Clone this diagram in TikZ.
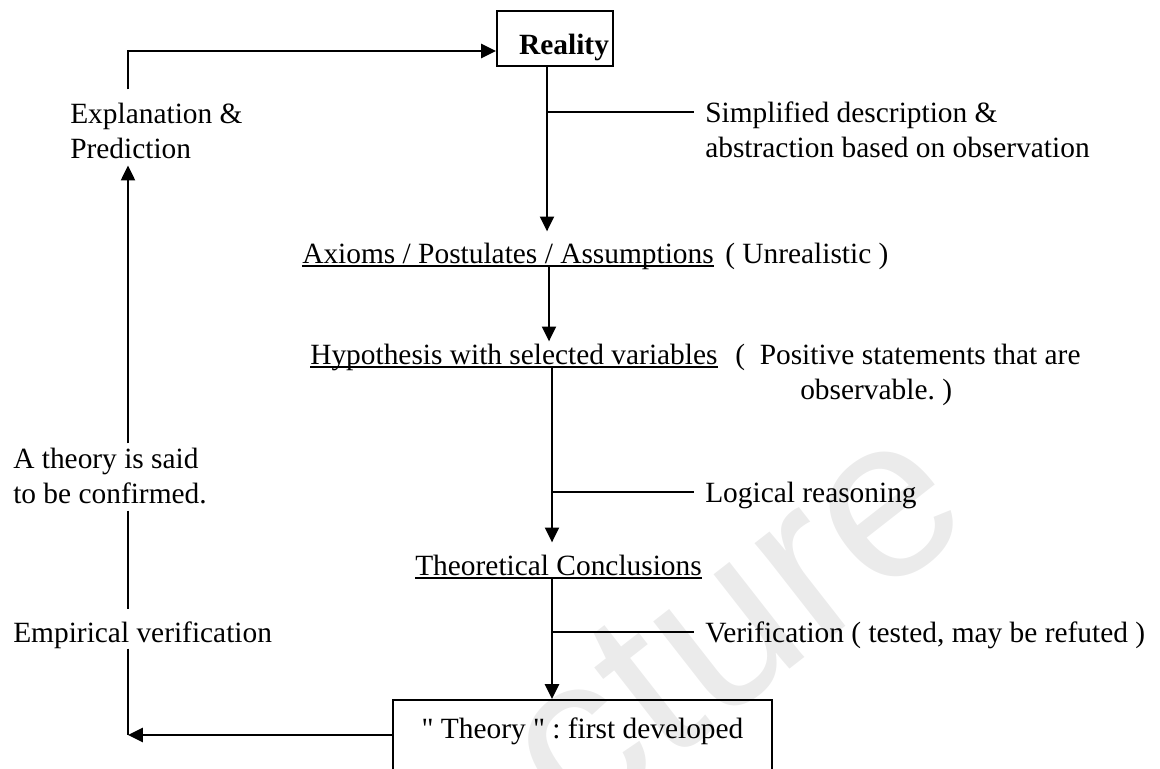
\documentclass[tikz,border=0pt]{standalone}
\usepackage{fontspec}
\setmainfont{Liberation Serif}
\newfontfamily\markfont{Liberation Sans}
\usetikzlibrary{arrows.meta,calc}

\begin{document}
\begin{tikzpicture}[x=0.025cm, y=-0.025cm,
  txt/.style={anchor=base west, inner sep=0pt, font=\fontsize{20.9}{25}\selectfont\frenchspacing},
  link/.style={line width=1.3pt},
  arr/.style={link, -{Triangle[length=10.5pt,width=10pt]}},
  uline/.style={line width=1.2pt}]

\useasboundingbox (0,0) rectangle (1160,769);
\clip (0,0) rectangle (1160,769);

% watermark behind everything
\node[rotate=38, text=gray!16, inner sep=0pt,
  font=\markfont\fontsize{163}{163}\selectfont] (mark) at (732,622) {cture};

% columns of the connectors
\coordinate (lx) at (128,0);
\coordinate (ax1) at (547,0);
\coordinate (ax2) at (549,0);
\coordinate (ax3) at (552,0);
\coordinate (looptop) at (0,51);
\coordinate (corner) at (128,735);

% Reality box
\node[draw, link, anchor=south west, inner xsep=0.1cm, inner ysep=0pt,
  text width=2.7cm, align=right, text height=1.075cm, text depth=0.3cm,
  font=\fontsize{20.9}{25}\selectfont\bfseries] (reality) at (496,67) {Reality};

% Theory box (runs off the bottom)
\node[draw, link, anchor=north west, inner sep=0pt,
  minimum width=9.475cm, text height=0.975cm, text depth=1.55cm,
  font=\fontsize{20.9}{25}\selectfont\frenchspacing] (theory) at (392,699)
  {\textquotedbl{} Theory \textquotedbl{} : first developed};

% left column
\node[txt] (expl) at (70,123) {Explanation \&};
\node[txt] (pred) at (70,158) {Prediction};
\node[txt] (said) at (13,468) {A theory is said};
\node[txt] (confirm) at (13,503) {to be confirmed.};
\node[txt] (empver) at (13,642) {Empirical verification};

% middle column
\node[txt] (axioms) at (302,263) {Axioms / Postulates / Assumptions};
\node[txt] (hyp) at (310,364) {Hypothesis with selected variables};
\node[txt] (concl) at (415,575) {Theoretical Conclusions};

% right column
\node[txt] (simp) at (705,122) {Simplified description \&};
\node[txt] (abst) at (705,157) {abstraction based on observation};
\node[txt] (unreal) at (725,263) {( Unrealistic )};
\node[txt] (posit) at (735,364) {(\ \ Positive statements that are};
\node[txt] (observ) at (800,399) {observable. )};
\node[txt] (logic) at (705,502) {Logical reasoning};
\node[txt] (verif) at (705,642) {Verification ( tested, may be refuted )};

% underlines
\foreach \n in {axioms,hyp,concl}
  \draw[uline] ($(\n.base west)+(0,3)$) -- ($(\n.base east)+(0,3)$);

% main chain
\draw[arr] (reality.south -| ax1) -- ($(axioms.north -| ax1)+(0,-11)$);
\draw[link] ($(simp.base west -| ax1)+(0,-10)$) -- ($(simp.base west)+(-11,-10)$);
\draw[arr] ($(axioms.base -| ax2)+(0,3)$) -- ($(hyp.north -| ax2)+(0,-2)$);
\draw[arr] ($(hyp.base -| ax3)+(0,3)$) -- ($(concl.north -| ax3)+(0,-12)$);
\draw[link] ($(logic.base west -| ax3)+(0,-10)$) -- ($(logic.base west)+(-11,-10)$);
\draw[arr] ($(concl.base -| ax3)+(0,3)$) -- (theory.north -| ax3);
\draw[link] ($(verif.base west -| ax3)+(0,-10)$) -- ($(verif.base west)+(-11,-10)$);

% feedback loop on the left
\draw[arr] (theory.west |- corner) -- (corner);
\draw[link] (empver.south -| lx) -- (corner);
\draw[link] ($(confirm.south -| lx)+(0,7)$) -- ($(empver.north -| lx)+(0,-12)$);
\draw[arr] ($(said.north -| lx)+(0,-4)$) -- ($(pred.south -| lx)+(0,7)$);
\draw[arr] ($(expl.north -| lx)+(0,-13)$) |- (reality.west |- looptop);

\end{tikzpicture}
\end{document}
